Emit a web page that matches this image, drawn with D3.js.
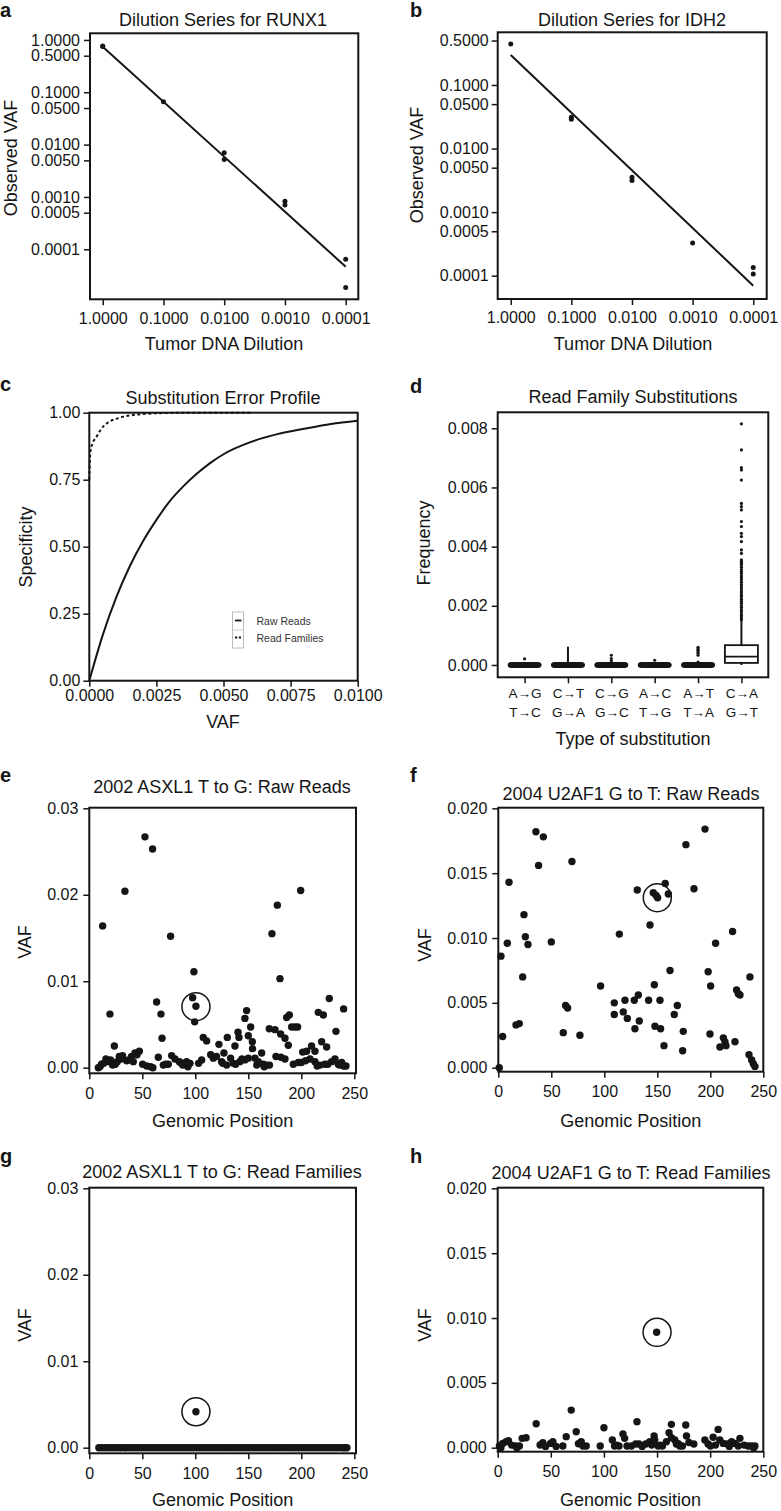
<!DOCTYPE html>
<html><head><meta charset="utf-8">
<script src="https://cdn.jsdelivr.net/npm/d3@7"></script>
<style>
body{margin:0;background:#fff;}
svg{display:block;font-family:"Liberation Sans",Arial,Helvetica,sans-serif;}
</style></head><body><svg id="fig" width="781" height="1511"></svg>
<script>
// ---------------- DATA ----------------
// Panel a: RUNX1 dilution series
const dilutionTicks = [1, 0.1, 0.01, 0.001, 0.0001];
const vafTicksA = [1, 0.5, 0.1, 0.05, 0.01, 0.005, 0.001, 0.0005, 0.0001];
const runx1Dilution = [1, 1, 0.1, 0.01, 0.01, 0.001, 0.001, 0.0001, 0.0001];
const runx1VAF = [0.77, 0.75, 0.066, 0.0070, 0.0052, 0.00083, 0.00070, 0.0000645, 0.0000186];
const fitDilution = [1, 0.0001];
const runx1FitVAF = [0.74, 0.0000465];
// Panel b: IDH2 dilution series
const vafTicksB = [0.5, 0.1, 0.05, 0.01, 0.005, 0.001, 0.0005, 0.0001];
const idh2Dilution = [1, 0.1, 0.1, 0.01, 0.01, 0.001, 0.0001, 0.0001];
const idh2VAF = [0.44, 0.031, 0.029, 0.00354, 0.00314, 0.000326, 0.000134, 0.000106];
const idh2FitVAF = [0.296, 0.0000697];
// Panel c: substitution error profile
const specTicks = [0, 0.25, 0.5, 0.75, 1];
const errVafTicks = [0, 0.0025, 0.005, 0.0075, 0.01];
const rawVAF = [0, 0.0005, 0.001, 0.0015, 0.002, 0.0025, 0.003, 0.0035, 0.004, 0.0045, 0.005, 0.006, 0.007, 0.008, 0.009, 0.01];
const rawSpec = [0, 0.17, 0.31, 0.425, 0.52, 0.60, 0.67, 0.725, 0.772, 0.812, 0.845, 0.89, 0.92, 0.94, 0.958, 0.97];
const famVAF = [0, 0.00002, 0.00005, 0.00012, 0.00027, 0.00045, 0.00065, 0.0011, 0.0019, 0.0029, 0.004, 0.006];
const famSpec = [0.75, 0.82, 0.86, 0.885, 0.91, 0.94, 0.96, 0.98, 0.994, 0.999, 1.0, 1.0];
const legendLabels = ["Raw Reads", "Read Families"];
// Panel d: read family substitutions
const subTop = ["A\u2192G", "C\u2192T", "C\u2192G", "A\u2192C", "A\u2192T", "C\u2192A"];
const subBottom = ["T\u2192C", "G\u2192A", "G\u2192C", "T\u2192G", "T\u2192A", "G\u2192T"];
const freqTicks = [0, 0.002, 0.004, 0.006, 0.008];
const boxQ1 = [0, 0, 0, 0, 0, 0.00007];
const boxMedian = [0, 0, 0, 0, 0, 0.00028];
const boxQ3 = [0, 0, 0, 0, 0, 0.00067];
const whiskerLow = [0, 0, 0, 0, 0, 0];
const whiskerHigh = [0.00008, 0.00062, 0.00008, 0.00008, 0.00008, 0.0015];
const outliers = [
  [0.00021],
  [],
  [0.00014, 0.00022, 0.00033],
  [0.00016],
  [0.0001, 0.00033, 0.0004, 0.00045, 0.0005, 0.00055, 0.0006],
  [0.00153, 0.0016, 0.00166, 0.00172, 0.0018, 0.00186, 0.00194, 0.002, 0.00208, 0.00215, 0.00222,
   0.0023, 0.00236, 0.00244, 0.0025, 0.00258, 0.00265, 0.00272, 0.0028, 0.00288, 0.00295, 0.00302,
   0.0031, 0.00316, 0.00322, 0.0033, 0.00338, 0.00344, 0.0035, 0.00355, 0.00377, 0.00389, 0.00417,
   0.00434, 0.00445, 0.00468, 0.00485, 0.00524, 0.00535, 0.00546, 0.00625, 0.00659, 0.00667, 0.00727, 0.00815]
];
// Panel e: ASXL1 raw reads
const posTicks = [0, 50, 100, 150, 200, 250];
const vafTicksE = [0, 0.01, 0.02, 0.03];
const ePos = [12.6, 19.5, 23.6, 33.6, 52.5, 59.7, 63.5, 67.6, 68.6, 76.7, 98.7, 97.5, 100.6, 99.4, 172.3, 177.4,
  179.9, 199.4, 226.4, 239.9, 232.7, 216, 220.8, 148.4, 146.8, 152.2, 150, 153.8, 154, 140.3, 141.2, 137.4,
  130.2, 122.3, 127, 107.5, 110.7, 114.5, 117, 169.8, 175.2, 180.5, 184.6, 187.7, 186.2, 188.7, 190.9, 194,
  196.5, 201.3, 205, 209.7, 212.9, 219.2, 223.9, 176.1, 180.8, 184.6,
  8.5, 11.6, 15.7, 17.9, 22, 26.4, 28.3, 31.4, 35.2, 39.9, 43.1, 47.2, 41.5, 50.3, 54.1, 57.9, 65.1, 69.8,
  74.5, 77.7, 80.8, 84.9, 88.1, 91.8, 95, 103.1, 106, 124.8, 129.6, 133.3, 135.8, 142, 146.8, 156.3, 159.4,
  162.6, 164.2, 167.3, 192.5, 197.2, 208.2, 212.9, 217.6, 222.3, 228.6, 231.8, 234.9, 238.1, 242.1,
  10, 13.5, 20, 24.5, 30, 37, 45, 60, 72, 86, 90, 93, 120, 126, 138, 144, 150, 158, 165, 170, 200, 204, 215,
  225, 236, 240];
const eVAF = [0.0164, 0.0062, 0.0025, 0.0204, 0.0267, 0.0253, 0.0076, 0.0062, 0.0034, 0.0152, 0.0111, 0.0081,
  0.0071, 0.0053, 0.0155, 0.0188, 0.0103, 0.0205, 0.0080, 0.0068, 0.0042, 0.0064, 0.0061, 0.0066, 0.0057,
  0.0047, 0.0037, 0.0030, 0.0022, 0.0041, 0.0035, 0.0025, 0.0035, 0.0027, 0.0017, 0.0035, 0.0031, 0.0015,
  0.0011, 0.0045, 0.0044, 0.0039, 0.0034, 0.0026, 0.0058, 0.0061, 0.0047, 0.0047, 0.0047, 0.0018, 0.0019,
  0.0025, 0.0019, 0.0030, 0.0024, 0.0013, 0.0012, 0.0010,
  0.0000, 0.0004, 0.0010, 0.0007, 0.0003, 0.0007, 0.0013, 0.0014, 0.0008, 0.0013, 0.0017, 0.0019, 0.0007,
  0.0004, 0.0002, 0.0001, 0.0012, 0.0003, 0.0004, 0.0014, 0.0010, 0.0007, 0.0003, 0.0007, 0.0005, 0.0005,
  0.0009, 0.0007, 0.0003, 0.0011, 0.0005, 0.0007, 0.0009, 0.0011, 0.0007, 0.0017, 0.0004, 0.0003, 0.0004,
  0.0006, 0.0010, 0.0007, 0.0003, 0.0004, 0.0007, 0.0010, 0.0004, 0.0006, 0.0002,
  0.0001, 0.0005, 0.0009, 0.0004, 0.0010, 0.0009, 0.0015, 0.0000, 0.0004, 0.0006, 0.0004, 0.0001, 0.0013,
  0.0005, 0.0004, 0.0010, 0.0011, 0.0003, 0.0001, 0.0003, 0.0006, 0.0008, 0.0002, 0.0004, 0.0003, 0.0002];
const eMarked = [100.6, 0.00706];
// Panel f: U2AF1 raw reads
const vafTicksF = [0, 0.005, 0.01, 0.015, 0.02];
const fPos = [0.9, 2.5, 4.1, 8.5, 10.1, 16.7, 19.8, 23, 24.2, 25.5, 28, 35.5, 42.5, 38, 50, 61.3, 63.5, 65.4,
  69.5, 77, 96.5, 109.4, 109.4, 114.2, 117.9, 119.5, 121.7, 128.3, 128.9, 132.1, 131.1, 133, 141.8, 143.1,
  146.2, 148.7, 150.3, 147.2, 147.8, 152.5, 153.1, 156.3, 157.5, 160.4, 162, 166, 168.9, 174.5, 173.9, 177,
  184.6, 195, 198, 200.3, 199.7, 205, 209.1, 212.3, 213.8, 214.8, 223.3, 221, 224.8, 226.4, 228, 237.4,
  236.5, 239, 240.6, 242.1];
const fVAF = [0.0000, 0.0086, 0.0024, 0.0096, 0.0143, 0.0033, 0.0034, 0.0070, 0.0118, 0.0101, 0.0095, 0.0182,
  0.0178, 0.0156, 0.0097, 0.0027, 0.0048, 0.0046, 0.0159, 0.0025, 0.0063, 0.0050, 0.0041, 0.0103, 0.0043,
  0.0052, 0.0038, 0.0052, 0.0030, 0.0056, 0.0137, 0.0036, 0.0052, 0.0110, 0.0135, 0.0133, 0.0131, 0.0064,
  0.0032, 0.0052, 0.0030, 0.0017, 0.0142, 0.0134, 0.0075, 0.0041, 0.0048, 0.0028, 0.0013, 0.0172, 0.0138,
  0.0184, 0.0074, 0.0063, 0.0026, 0.0096, 0.0016, 0.0023, 0.0020, 0.0017, 0.0020, 0.0105, 0.0060, 0.0057,
  0.0056, 0.0070, 0.0010, 0.0006, 0.0003, 0.0001];
const fMarked = [150, 0.01311];
// Panel g: ASXL1 read families
const gPos = [9, 12, 15, 18, 21, 24, 27, 30, 33, 35, 38, 41, 44, 47, 50, 53, 56, 59, 62, 65, 68, 71, 74, 77,
  80, 83, 86, 89, 92, 95, 98, 101, 104, 107, 110, 113, 116, 119, 122, 125, 128, 131, 134, 137, 140, 143, 146,
  149, 152, 155, 158, 161, 164, 167, 170, 173, 176, 179, 182, 185, 188, 191, 194, 197, 200, 203, 206, 209,
  212, 215, 218, 221, 224, 227, 230, 233, 236, 239, 241, 243, 100.6];
const gVAF = [0, 0, 0, 0, 0, 0, 0, 0, 0, 0, 0, 0, 0, 0, 0, 0, 0, 0, 0, 0, 0, 0, 0, 0, 0, 0, 0, 0, 0, 0, 0, 0,
  0, 0, 0, 0, 0, 0, 0, 0, 0, 0, 0, 0, 0, 0, 0, 0, 0, 0, 0, 0, 0, 0, 0, 0, 0, 0, 0, 0, 0, 0, 0, 0, 0, 0, 0,
  0, 0, 0, 0, 0, 0, 0, 0, 0, 0, 0, 0, 0, 0.00416];
const gMarked = [100.6, 0.00416];
// Panel h: U2AF1 read families
const hPos = [1.6, 4.7, 7.9, 10.1, 16.7, 20.4, 23, 26.7, 36.2, 39.9, 42.5, 49.7, 51.9, 61.3, 64.5, 69.2, 73.9,
  78.6, 80.2, 83.3, 96.5, 100, 107.9, 110, 114.2, 117.9, 119.5, 121.7, 125.8, 129.9, 131.1, 133, 139.3, 143.1,
  147.2, 147.8, 149.6, 151, 155, 158.8, 161.3, 163.5, 163.5, 166.7, 168.2, 171.4, 173.9, 177, 177.7, 184.6,
  195, 198, 200.3, 202.8, 207.5, 209.1, 212.3, 216, 220.1, 223.3, 226.4, 228, 235.8, 239, 242.1,
  3, 13, 18, 45, 55, 76, 112, 136, 145, 153, 170, 180, 205, 218, 232, 241];
const hVAF = [0.00013, 0.00033, 0.00046, 0.00054, 0.00013, 0.00013, 0.00072, 0.00077, 0.00185, 0.00021,
  0.00039, 0.00033, 0.00046, 0.00013, 0.00085, 0.0029, 0.00123, 0.00046, 0.00013, 0.00013, 0.00013, 0.00154,
  0.00059, 0.00013, 0.00013, 0.00105, 0.00072, 0.00013, 0.00013, 0.00028, 0.0020, 0.00028, 0.00028, 0.00046,
  0.0009, 0.00059, 0.0089, 0.00013, 0.00013, 0.00046, 0.00116, 0.0018, 0.00077, 0.00059, 0.00028, 0.00013,
  0.00013, 0.00175, 0.0009, 0.00028, 0.00059, 0.00028, 0.00013, 0.0008, 0.00141, 0.00059, 0.00033, 0.00028,
  0.00046, 0.00033, 0.00013, 0.00072, 0.00013, 0.00013, 0.00013,
  0.0, 0.0002, 0.0, 0.0001, 0.0001, 0.0003, 0.0002, 0.0001, 0.0002, 0.0002, 0.0003, 0.0004, 0.0002, 0.0001,
  0.0002, 0.0];
const hMarked = [150, 0.0089];

// ---------------- DRAWING ----------------
const INK = "#151515";
const svg = d3.select("#fig");
svg.append("rect").attr("width", 781).attr("height", 1511).attr("fill", "#fff");

function panel(b) {
  const g = svg.append("g").attr("transform", `translate(${b.x0},${b.y0})`);
  return { g, w: b.x1 - b.x0, h: b.y1 - b.y0, b };
}
function frame(p) {
  p.g.append("rect").attr("width", p.w).attr("height", p.h)
    .attr("fill", "none").attr("stroke", INK).attr("stroke-width", 2);
}
function styleAxis(a, fs) {
  a.attr("font-family", null).attr("font-size", null);
  a.select(".domain").remove();
  a.selectAll(".tick line").attr("stroke", INK).attr("stroke-width", 1.5);
  a.selectAll(".tick text").attr("fill", INK).attr("font-size", fs || 16);
}
function yAxis(p, y, ticks, fmt, pad) {
  const a = p.g.append("g").call(d3.axisLeft(y).tickValues(ticks).tickFormat(fmt).tickSize(6).tickPadding(pad));
  styleAxis(a);
  return a;
}
function xAxis(p, x, ticks, fmt, pad) {
  const a = p.g.append("g").attr("transform", `translate(0,${p.h})`)
    .call(d3.axisBottom(x).tickValues(ticks).tickFormat(fmt).tickSize(6).tickPadding(pad));
  styleAxis(a);
  return a;
}
function text(x, y, s, opt) {
  opt = opt || {};
  return svg.append("text").attr("x", x).attr("y", y).text(s)
    .attr("fill", INK).attr("font-size", opt.fs || 18)
    .attr("font-weight", opt.bold ? "bold" : null)
    .attr("text-anchor", opt.anchor || "middle")
    .attr("dominant-baseline", opt.base || "central");
}
function yLabel(x, y, s) {
  svg.append("text").attr("transform", `translate(${x},${y}) rotate(-90)`).text(s)
    .attr("fill", INK).attr("font-size", 18).attr("text-anchor", "middle").attr("dominant-baseline", "central");
}

// ----- Panel a -----
(function () {
  const p = panel({ x0: 90, x1: 358.3, y0: 33.3, y1: 299.3 });
  const x = d3.scaleLog().domain([1.62, 6.2e-5]).range([0, p.w]);
  const y = d3.scaleLog().domain([1.107e-5, 1.34]).range([p.h, 0]);
  yAxis(p, y, vafTicksA, d3.format(".4f"), 4);
  xAxis(p, x, dilutionTicks, d3.format(".4f"), 7);
  p.g.append("path").datum(d3.zip(fitDilution, runx1FitVAF))
    .attr("d", d3.line().x(d => x(d[0])).y(d => y(d[1])))
    .attr("fill", "none").attr("stroke", INK).attr("stroke-width", 2);
  p.g.selectAll("circle.pt").data(d3.zip(runx1Dilution, runx1VAF)).join("circle")
    .attr("cx", d => x(d[0])).attr("cy", d => y(d[1])).attr("r", 2.5).attr("fill", INK);
  frame(p);
  text(223, 20, "Dilution Series for RUNX1");
  text(224, 343.5, "Tumor DNA Dilution");
  yLabel(11, 158, "Observed VAF");
  text(0, 17, "a", { bold: true, fs: 20, anchor: "start", base: "auto" });
})();

// ----- Panel b -----
(function () {
  const p = panel({ x0: 497.7, x1: 766.7, y0: 32.3, y1: 299 });
  const x = d3.scaleLog().domain([1.64, 6.0e-5]).range([0, p.w]);
  const y = d3.scaleLog().domain([4.3e-5, 0.674]).range([p.h, 0]);
  yAxis(p, y, vafTicksB, d3.format(".4f"), 3);
  xAxis(p, x, dilutionTicks, d3.format(".4f"), 7);
  p.g.append("path").datum(d3.zip(fitDilution, idh2FitVAF))
    .attr("d", d3.line().x(d => x(d[0])).y(d => y(d[1])))
    .attr("fill", "none").attr("stroke", INK).attr("stroke-width", 2);
  p.g.selectAll("circle.pt").data(d3.zip(idh2Dilution, idh2VAF)).join("circle")
    .attr("cx", d => x(d[0])).attr("cy", d => y(d[1])).attr("r", 2.5).attr("fill", INK);
  frame(p);
  text(632, 20, "Dilution Series for IDH2");
  text(633, 343.5, "Tumor DNA Dilution");
  yLabel(417, 165, "Observed VAF");
  text(410, 17, "b", { bold: true, fs: 20, anchor: "start", base: "auto" });
})();

// ----- Panel c -----
(function () {
  const p = panel({ x0: 89.3, x1: 357.7, y0: 412.7, y1: 680.7 });
  const x = d3.scaleLinear().domain([0, 0.01]).range([0, p.w]);
  const y = d3.scaleLinear().domain([0, 1]).range([p.h, 0]);
  yAxis(p, y, specTicks, d3.format(".2f"), 3);
  xAxis(p, x, errVafTicks, d3.format(".4f"), 3);
  const line = d3.line().curve(d3.curveMonotoneX).x(d => x(d[0])).y(d => y(d[1]));
  p.g.append("path").datum(d3.zip(rawVAF, rawSpec)).attr("d", line)
    .attr("fill", "none").attr("stroke", INK).attr("stroke-width", 2);
  p.g.append("path").datum(d3.zip(famVAF, famSpec)).attr("d", line)
    .attr("fill", "none").attr("stroke", INK).attr("stroke-width", 2).attr("stroke-dasharray", "3,2.5");
  frame(p);
  // legend
  const lg = svg.append("g").attr("transform", "translate(232.5,612)");
  lg.append("rect").attr("width", 11).attr("height", 36).attr("fill", "none").attr("stroke", "#bbb").attr("stroke-width", 1);
  lg.append("line").attr("x1", 0).attr("x2", 11).attr("y1", 18).attr("y2", 18).attr("stroke", "#ccc").attr("stroke-width", 1);
  legendLabels.forEach((s, i) => {
    const yy = 8.5 + i * 17;
    lg.append("line").attr("x1", 2.5).attr("x2", 9).attr("y1", yy).attr("y2", yy)
      .attr("stroke", INK).attr("stroke-width", 1.8).attr("stroke-dasharray", i ? "2.2,1.6" : null);
    lg.append("text").attr("x", 24).attr("y", yy).text(s).attr("fill", "#333")
      .attr("font-size", 10.5).attr("dominant-baseline", "central");
  });
  text(223, 397.5, "Substitution Error Profile");
  text(223, 722, "VAF");
  yLabel(26, 547, "Specificity");
  text(0, 391, "c", { bold: true, fs: 20, anchor: "start", base: "auto" });
})();

// ----- Panel d -----
(function () {
  const p = panel({ x0: 497.7, x1: 768.3, y0: 412.3, y1: 677.3 });
  const idx = d3.range(subTop.length);
  const x = d3.scalePoint().domain(idx).range([0, p.w]).padding(0.62);
  const y = d3.scaleLinear().domain([-0.000416, 0.00854]).range([p.h, 0]);
  yAxis(p, y, freqTicks, d3.format(".3f"), 4);
  const xa = xAxis(p, x, idx, () => "", 3);
  xa.selectAll(".tick text").each(function (d) {
    const t = d3.select(this).attr("font-size", 13.5);
    t.append("tspan").attr("x", 0).attr("dy", "0.9em").text(subTop[d]);
    t.append("tspan").attr("x", 0).attr("dy", "1.35em").text(subBottom[d]);
  });
  const bw = 33;
  idx.forEach(i => {
    const cx = x(i);
    const g = p.g.append("g");
    g.append("line").attr("x1", cx).attr("x2", cx).attr("y1", y(boxQ3[i])).attr("y2", y(whiskerHigh[i]))
      .attr("stroke", INK).attr("stroke-width", 2);
    g.append("line").attr("x1", cx).attr("x2", cx).attr("y1", y(boxQ1[i])).attr("y2", y(whiskerLow[i]))
      .attr("stroke", INK).attr("stroke-width", 2);
    const flat = boxQ3[i] === boxQ1[i];
    g.append("rect").attr("x", cx - bw / 2).attr("width", bw)
      .attr("y", y(boxQ3[i]) - (flat ? 2.5 : 0)).attr("height", flat ? 5 : y(boxQ1[i]) - y(boxQ3[i]))
      .attr("rx", flat ? 2.5 : 0)
      .attr("fill", flat ? INK : "#fff").attr("stroke", INK).attr("stroke-width", flat ? 1 : 1.8);
    g.append("line").attr("x1", cx - bw / 2).attr("x2", cx + bw / 2).attr("y1", y(boxMedian[i])).attr("y2", y(boxMedian[i]))
      .attr("stroke", INK).attr("stroke-width", flat ? 3 : 1.8);
    g.selectAll("circle").data(outliers[i]).join("circle")
      .attr("cx", cx).attr("cy", d => y(d)).attr("r", 1.6).attr("fill", INK);
  });
  frame(p);
  text(633, 397, "Read Family Substitutions");
  text(633, 738.5, "Type of substitution");
  yLabel(424, 543, "Frequency");
  text(410, 393, "d", { bold: true, fs: 20, anchor: "start", base: "auto" });
})();

// ----- scatter panels e-h -----
function scatter(box, xDom, yDom, yTicks, yFmt, pos, vaf, marked, title, titleX, titleY, letter, letterX, letterY, ylabX, ylabY, xlabY) {
  const p = panel(box);
  const x = d3.scaleLinear().domain(xDom).range([0, p.w]);
  const y = d3.scaleLinear().domain(yDom).range([p.h, 0]);
  yAxis(p, y, yTicks, yFmt, 5);
  xAxis(p, x, posTicks, d3.format("d"), 8);
  p.g.selectAll("circle.pt").data(d3.zip(pos, vaf)).join("circle").attr("class", "pt")
    .attr("cx", d => x(d[0])).attr("cy", d => y(d[1])).attr("r", 3.7).attr("fill", INK);
  p.g.append("circle").attr("cx", x(marked[0])).attr("cy", y(marked[1])).attr("r", 14)
    .attr("fill", "none").attr("stroke", INK).attr("stroke-width", 1.5);
  frame(p);
  text(titleX, titleY, title);
  text((box.x0 + box.x1) / 2, xlabY, "Genomic Position");
  yLabel(ylabX, ylabY, "VAF");
  text(letterX, letterY, letter, { bold: true, fs: 20, anchor: "start", base: "auto" });
}
scatter({ x0: 89.3, x1: 356, y0: 807.7, y1: 1073.3 }, [0, 251.6], [-0.00065, 0.03007], vafTicksE, d3.format(".2f"),
  ePos, eVAF, eMarked, "2002 ASXL1 T to G: Raw Reads", 222, 787, "e", 0, 782, 25, 942, 1121);
scatter({ x0: 498.3, x1: 763.3, y0: 807.7, y1: 1071.7 }, [0, 250], [-0.00031, 0.02005], vafTicksF, d3.format(".3f"),
  fPos, fVAF, fMarked, "2004 U2AF1 G to T: Raw Reads", 631, 794, "f", 410, 782, 425, 945, 1121);
scatter({ x0: 89.3, x1: 356, y0: 1187.7, y1: 1453.3 }, [0, 251.6], [-0.00065, 0.03007], vafTicksE, d3.format(".2f"),
  gPos, gVAF, gMarked, "2002 ASXL1 T to G: Read Families", 222, 1172, "g", 0, 1163, 25, 1325, 1500);
scatter({ x0: 497.7, x1: 763.3, y0: 1187.7, y1: 1451.7 }, [0, 250], [-0.00031, 0.02005], vafTicksF, d3.format(".3f"),
  hPos, hVAF, hMarked, "2004 U2AF1 G to T: Read Families", 631, 1173, "h", 410, 1163, 425, 1325, 1500);
</script></body></html>
